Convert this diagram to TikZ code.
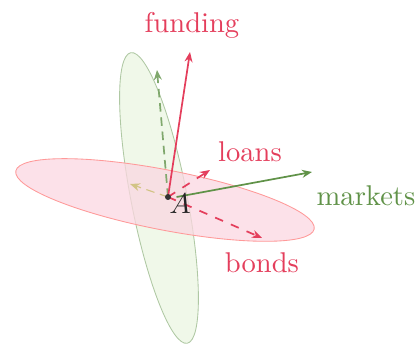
\documentclass[tikz,border=0pt]{standalone}
\usetikzlibrary{arrows.meta}
\definecolor{myred}{RGB}{228,62,92}
\definecolor{mygreen}{RGB}{96,146,72}
\definecolor{pinkfill}{RGB}{251,215,225}
\definecolor{greenfill}{RGB}{236,246,228}
\definecolor{olive}{RGB}{190,170,80}
\tikzset{
  vec/.style={line width=0.6pt,-{Stealth[length=3.5pt,width=2.8pt]}},
  lbl/.style={font=\normalsize},
}
\begin{document}
\begin{tikzpicture}[x=0.35pt,y=0.35pt]
\useasboundingbox (0,0) rectangle (418,352);
% planes
\draw[mygreen!50,line width=0.3pt,fill=greenfill,fill opacity=0.8] (159,154) ellipse [x radius=28, y radius=148, rotate=11];
\draw[pink!80!red,line width=0.3pt,fill=pinkfill,fill opacity=0.75] (165,152) ellipse [x radius=152, y radius=30, rotate=-11];
% points
\coordinate (O) at (168,155);
\coordinate (F) at (190,300);
\coordinate (G) at (157,282);
\coordinate (L) at (210,182);
\coordinate (M) at (312,180);
\coordinate (B) at (262,114);
\coordinate (W) at (130,168);
% vectors
\draw[vec,olive!70,densely dashed,line width=0.4pt] (O) -- (W);
\draw[vec,mygreen!80,densely dashed] (O) -- (G);
\draw[vec,myred] (O) -- (F);
\draw[vec,myred,dashed] (O) -- (L);
\draw[vec,myred,dashed] (O) -- (B);
\draw[vec,mygreen] ([xshift=3]O) -- (M);
\fill[black!80] (O) circle (3);
% labels
\node[lbl,text=black!85] (A) at (180,148) {$A$};
\node[lbl,text=myred] (fl) at (192,327) {funding};
\node[lbl,text=myred] (ll) at (250,200) {loans};
\node[lbl,text=mygreen] (ml) at (366,156) {markets};
\node[lbl,text=myred] (bl) at (262,89) {bonds};
\end{tikzpicture}
\end{document}
